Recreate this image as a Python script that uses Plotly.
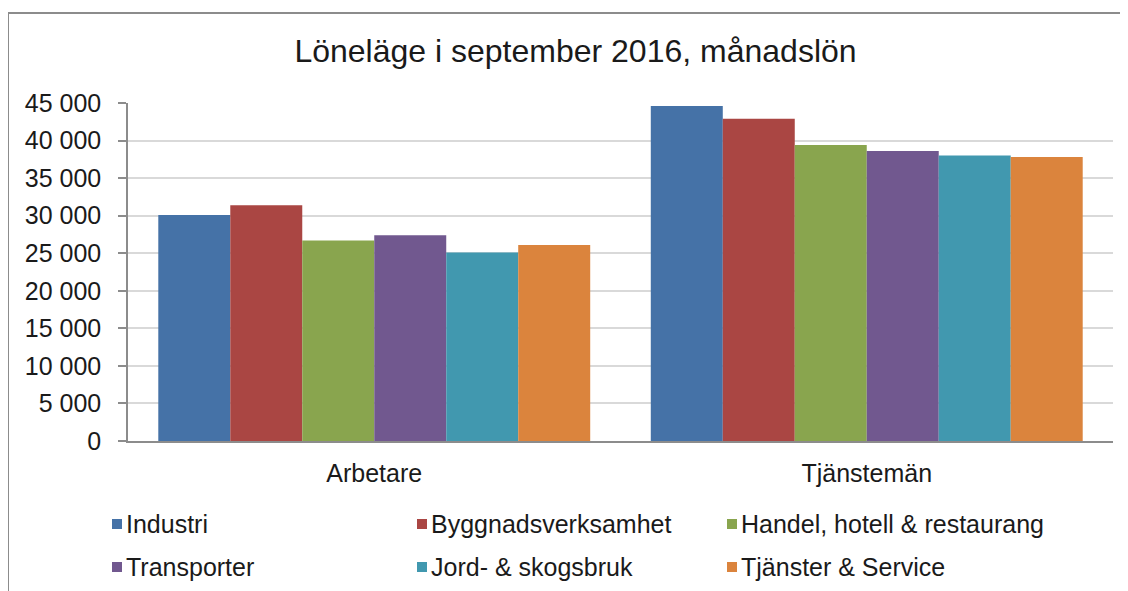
import plotly.graph_objects as go

categories = ["Arbetare", "Tjänstemän"]
series_names = ["Industri", "Byggnadsverksamhet", "Handel, hotell & restaurang",
                "Transporter", "Jord- & skogsbruk", "Tjänster & Service"]
arbetare = [30100, 31400, 26700, 27400, 25100, 26100]
tjanstemän = [44600, 42900, 39400, 38600, 38000, 37800]
colors = ["#4572A7", "#AA4643", "#89A54E", "#71588F", "#4198AF", "#DB843D"]
y_ticks = [0, 5000, 10000, 15000, 20000, 25000, 30000, 35000, 40000, 45000]

FONT = "Liberation Sans, Arial, sans-serif"
TXT = "#1a1a1a"

OFF = 8  # page body margin offset
W, H = 1128, 591
# plot area in screen pixels
SX0, SX1, SY0, SY1 = 128, 1113, 103, 441
ML = SX0 - OFF
MT = SY0 - OFF
MR = W - (SX1 - OFF)
MB = H - (SY1 - OFF)
PW, PH = W - ML - MR, H - MT - MB


def px_x(x):
    return (x - OFF - ML) / PW


def px_y(y):
    return (H - MB - (y - OFF)) / PH


fig = go.Figure()
for i, name in enumerate(series_names):
    fig.add_trace(go.Bar(
        x=categories, y=[arbetare[i], tjanstemän[i]], name=name,
        marker=dict(color=colors[i], line=dict(width=0)),
        showlegend=False,
    ))

# legend: 3 columns x 2 rows, built from the series list
col_x = [112, 417, 727]
row_y = [524, 567]
shapes = [dict(type="rect", xref="paper", yref="paper", x0=px_x(8), x1=1.2,
               y0=-0.6, y1=px_y(13),
               line=dict(color="#8c8c8c", width=2), fillcolor="rgba(0,0,0,0)", layer="below")]
annotations = []
for i, name in enumerate(series_names):
    cx = col_x[i % 3]
    cy = row_y[i // 3]
    shapes.append(dict(type="rect", xref="paper", yref="paper",
                       x0=px_x(cx), x1=px_x(cx + 10), y0=px_y(cy + 5), y1=px_y(cy - 5),
                       line=dict(width=0), fillcolor=colors[i]))
    annotations.append(dict(text=name, xref="paper", yref="paper", x=px_x(cx + 12),
                            y=px_y(cy), xanchor="left", yanchor="middle", showarrow=False,
                            font=dict(family=FONT, size=25, color=TXT)))

fig.update_layout(
    width=W, height=H,
    paper_bgcolor="white", plot_bgcolor="white",
    margin=dict(l=ML, r=MR, t=MT, b=MB),
    separators=", ",
    barmode="group", bargap=0.123, bargroupgap=0,
    title=dict(text="Löneläge i september 2016, månadslön", x=(575.5 - OFF) / W,
               xanchor="center", y=1 - (51 - OFF) / H, yanchor="middle",
               font=dict(family=FONT, size=32, color=TXT)),
    xaxis=dict(showline=True, linecolor="#8c8c8c", linewidth=2, ticks="",
               tickfont=dict(family=FONT, size=25, color=TXT), ticklabelstandoff=9),
    yaxis=dict(range=[0, 45000], tickvals=y_ticks, tickformat=",d",
               showline=True, linecolor="#8c8c8c", linewidth=1.5,
               ticks="outside", ticklen=8, tickcolor="#8c8c8c", tickwidth=1.5,
               showgrid=True, gridcolor="#d9d9d9", gridwidth=1.5, zeroline=False,
               tickfont=dict(family=FONT, size=25, color=TXT), ticklabelstandoff=12),
    shapes=shapes,
    annotations=annotations,
)

fig.write_html("out.html")
